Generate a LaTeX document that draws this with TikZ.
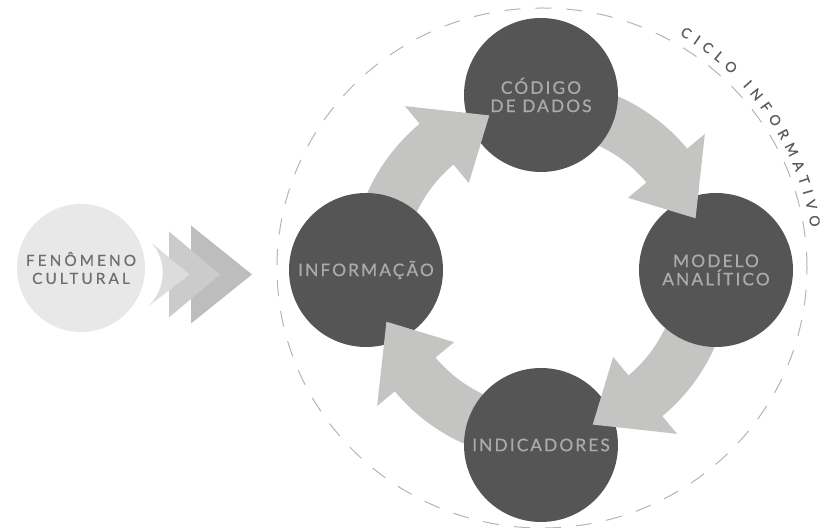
\documentclass[tikz,border=0pt]{standalone}
\usepackage{fontspec}
\setmainfont{Lato}
\newfontfamily\stagefont[LetterSpace=12,FakeBold=0.5]{Lato}
\newfontfamily\phenfont[LetterSpace=20,FakeBold=0.6]{Lato}
\newfontfamily\ringfont[FakeBold=0.4]{Lato}
\usetikzlibrary{decorations.text}
\definecolor{stagefill}{HTML}{555555}
\definecolor{stagetext}{HTML}{ABABAB}
\definecolor{flowgray}{HTML}{C4C4C2}
\definecolor{phenfill}{HTML}{E8E8E8}
\definecolor{phentext}{HTML}{6E6E6E}
\definecolor{chevA}{HTML}{DCDCDC}
\definecolor{chevB}{HTML}{CBCBCB}
\definecolor{chevC}{HTML}{BDBDBD}
\definecolor{ringgray}{HTML}{B4B4B4}
\definecolor{ringtext}{HTML}{5A5A5A}
\tikzset{
  stage/.style={circle,fill=stagefill,minimum size=115.5pt,inner sep=0pt,align=center,text=stagetext,font=\stagefont\fontsize{13}{13.7}\selectfont},
  phen/.style={circle,fill=phenfill,minimum size=96pt,inner sep=0pt,align=center,text=phentext,font=\phenfont\fontsize{11.5}{13.5}\selectfont},
  flowarrow/.style={fill=flowgray},
  ringline/.style={draw=ringgray,line width=0.75pt,dash pattern=on 12pt off 11.25pt}
}
% body and head of a fat arrow ending at the stage at angle #1
\newcommand{\flowbody}[1]{\fill[flowarrow] ([shift={(#1+90:190)}]ctr) arc[start angle=#1+90,end angle=#1+39.2,radius=190] -- ([shift={(#1+39.2:137)}]ctr) arc[start angle=#1+39.2,end angle=#1+90,radius=137] -- cycle;}
\newcommand{\flowhead}[1]{\fill[flowarrow] ([shift={(#1+39.7:213)}]ctr) -- ([shift={(#1+18.5:163)}]ctr) -- ([shift={(#1+39.7:113)}]ctr) -- cycle;}
\begin{document}
\begin{tikzpicture}[x=0.75pt,y=0.75pt]
    \useasboundingbox (0,0) rectangle (822,528);
    \coordinate (ctr) at (541,258);
    % dashed ring and its title
    \draw[ringline] (542,260) ellipse[x radius=265,y radius=260];
    \path[decorate,decoration={text along path,text align={fit to path},text color=ringtext,
        text={|\ringfont\fontsize{10.5}{12}\selectfont|CICLO INFORMATIVO}}]
        ([shift={(59.5:273)}]ctr) arc[start angle=59.5,end angle=9,radius=273];
    % arrow bodies go under the stages
    \flowbody{90}
    \flowbody{0}
    \flowbody{-90}
    \flowbody{180}
    \node[stage] (code) at ([shift={(90:175)}]ctr) {CÓDIGO\\DE DADOS};
    \node[stage] (model) at ([shift={(0:175)}]ctr) {MODELO\\ANALÍTICO};
    \node[stage] (ind) at ([shift={(-90:175)}]ctr) {INDICADORES};
    \node[stage] (info) at ([shift={(180:175)}]ctr) {INFORMAÇÃO};
    % arrow heads go over the stages
    \flowhead{90}
    \flowhead{0}
    \flowhead{-90}
    \flowhead{180}
    % entry chevrons
    \fill[chevC] (191,302.5) -- (252,253.5) -- (191,204.5) -- cycle;
    \fill[chevB] (169,296.5) -- (220,253.5) -- (169,210.5) -- cycle;
    \fill[chevA] (151.5,285.2) -- (189.5,253.5) -- (148.5,221.8) .. controls (167,240) and (167,268) .. (151.5,285.2) -- cycle;
    \node[phen] (phen) at (81,260) {FENÔMENO\\CULTURAL};
\end{tikzpicture}
\end{document}
